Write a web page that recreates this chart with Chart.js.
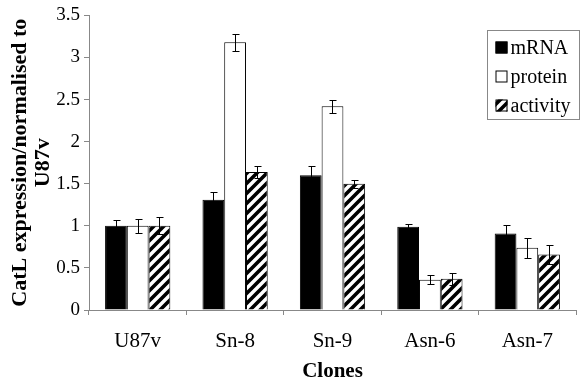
<!DOCTYPE html>
<html>
<head>
<meta charset="utf-8">
<script src="https://cdn.jsdelivr.net/npm/chart.js@4.4.0/dist/chart.umd.min.js"></script>
<style>
  html, body { margin: 0; padding: 0; background: #fff; }
  #wrap { width: 584px; height: 390px; }
</style>
</head>
<body>
<div id="wrap"><canvas id="chart1" width="584" height="390"></canvas></div>
<script>
const clones = ['U87v', 'Sn-8', 'Sn-9', 'Asn-6', 'Asn-7'];
const mrna = [1.0, 1.31, 1.6, 0.99, 0.91];
const mrnaErr = [0.07, 0.09, 0.11, 0.03, 0.1];
const protein = [1.0, 3.18, 2.42, 0.36, 0.74];
const proteinErr = [0.08, 0.1, 0.08, 0.05, 0.12];
const activity = [1.0, 1.64, 1.5, 0.37, 0.66];
const activityErr = [0.1, 0.07, 0.05, 0.07, 0.11];

const serif = "'Liberation Serif', 'Times New Roman', serif";

// diagonal hatch for the activity bars
function hatch() {
    const s = 10;
    const c = document.createElement('canvas');
    c.width = s; c.height = s;
    const g = c.getContext('2d');
    g.fillStyle = '#fff';
    g.fillRect(0, 0, s, s);
    g.strokeStyle = '#000';
    g.lineWidth = 3.6;
    g.beginPath();
    g.moveTo(-2, s + 2); g.lineTo(s + 2, -2);
    g.moveTo(-2, 2); g.lineTo(2, -2);
    g.moveTo(s - 2, s + 2); g.lineTo(s + 2, s - 2);
    g.stroke();
    return g.createPattern(c, 'repeat');
}
const hatchFill = hatch();

const errorBars = {
    id: 'errorBars',
    afterDatasetsDraw(chart) {
        const ctx = chart.ctx;
        const y = chart.scales.y;
        ctx.save();
        ctx.strokeStyle = '#000';
        ctx.lineWidth = 1;
        chart.data.datasets.forEach((ds, i) => {
            const meta = chart.getDatasetMeta(i);
            meta.data.forEach((bar, j) => {
                const v = ds.data[j], e = ds.err[j];
                const x = Math.round(bar.x) + 0.5;
                const top = Math.round(y.getPixelForValue(v + e)) + 0.5;
                const bot = Math.round(y.getPixelForValue(v - e)) + 0.5;
                ctx.beginPath();
                ctx.moveTo(x, top); ctx.lineTo(x, bot);
                ctx.moveTo(x - 3, top); ctx.lineTo(x + 4, top);
                ctx.moveTo(x - 3, bot); ctx.lineTo(x + 4, bot);
                ctx.stroke();
            });
        });
        ctx.restore();
    }
};

const boxLegend = {
    id: 'boxLegend',
    afterDraw(chart) {
        const ctx = chart.ctx;
        const bx = 487.5, by = 30.5, bw = 92, bh = 89;
        ctx.save();
        ctx.strokeStyle = '#888';
        ctx.lineWidth = 1;
        ctx.strokeRect(bx, by, bw, bh);
        ctx.font = '20px ' + serif;
        ctx.textBaseline = 'middle';
        chart.data.datasets.forEach((ds, i) => {
            const cy = by + 17 + i * 29;
            ctx.fillStyle = ds.backgroundColor;
            ctx.fillRect(bx + 8, cy - 6, 12, 12);
            ctx.strokeStyle = '#000';
            ctx.strokeRect(bx + 8.5, cy - 5.5, 11, 11);
            ctx.fillStyle = '#000';
            ctx.fillText(ds.label, bx + 23, cy + 1);
        });
        ctx.restore();
    }
};

const cfg1 = {
    type: 'bar',
    data: {
        labels: clones,
        datasets: [
            { label: 'mRNA', data: mrna, err: mrnaErr, backgroundColor: '#000' },
            { label: 'protein', data: protein, err: proteinErr, backgroundColor: '#fff' },
            { label: 'activity', data: activity, err: activityErr, backgroundColor: hatchFill }
        ]
    },
    options: {
        responsive: false,
        animation: false,
        datasets: { bar: { borderColor: '#000', borderWidth: 1, categoryPercentage: 0.67, barPercentage: 1.0 } },
        layout: { padding: { top: 6, right: 8, left: 0, bottom: 2 } },
        plugins: { legend: { display: false }, tooltip: { enabled: false } },
        scales: {
            x: {
                grid: { drawOnChartArea: false, color: '#888', tickLength: 5, offset: true },
                border: { color: '#888' },
                ticks: { color: '#000', font: { family: serif, size: 21 }, padding: 14 },
                title: { display: true, text: 'Clones', color: '#000', font: { family: serif, size: 21, weight: 'bold' }, padding: { top: 9 } },
                afterFit(scale) { scale.height = 78; }
            },
            y: {
                min: 0, max: 3.5,
                ticks: { stepSize: 0.5, color: '#000', font: { family: serif, size: 19 }, padding: 4,
                    callback: (v) => String(v) },
                grid: { drawOnChartArea: false, color: '#888', tickLength: 5 },
                border: { color: '#888' },
                title: { display: true, text: ['CatL expression/normalised to', 'U87v'], color: '#000', font: { family: serif, size: 22, weight: 'bold', lineHeight: 1.05 }, padding: { top: 9, bottom: 0 } },
                afterFit(scale) { scale.width = 89; }
            }
        }
    },
    plugins: [errorBars, boxLegend]
};

const chart1 = new Chart(document.getElementById('chart1').getContext('2d'), cfg1);
</script>
</body>
</html>
